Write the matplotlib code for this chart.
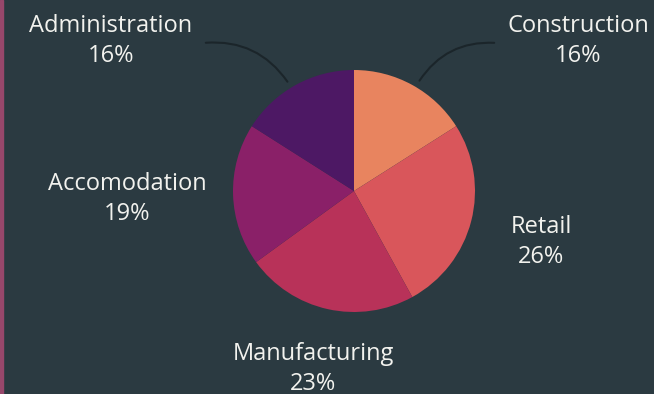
import numpy as np
import matplotlib.pyplot as plt
from matplotlib.patches import Rectangle, FancyArrowPatch

# data
sectors = ['Construction', 'Retail', 'Manufacturing', 'Accomodation', 'Administration']
shares = [16, 26, 23, 19, 16]
colors = ['#e8845f', '#d9565b', '#b83259', '#8a2068', '#4d1864']

# label centres (pixels, from top-left)
label_pos = [(578, 41), (541, 242), (313, 369), (127, 199), (111, 41)]

bg = '#2b3a41'
W, H = 654, 394
fig = plt.figure(figsize=(W / 100, H / 100), dpi=100, facecolor=bg)

# overlay axes in pixel coordinates
ov = fig.add_axes([0, 0, 1, 1])
ov.set_xlim(0, W)
ov.set_ylim(H, 0)
ov.axis('off')
ov.add_patch(Rectangle((0, 0), 3, H, color='#97476b'))

# pie
cx, cy, r = 354, 191, 121
ax = fig.add_axes([(cx - r) / W, (H - cy - r) / H, 2 * r / W, 2 * r / H])
ax.pie(shares, colors=colors, startangle=90, counterclock=False,
       wedgeprops=dict(linewidth=0))
ax.set_xlim(-1, 1)
ax.set_ylim(-1, 1)
ax.set_aspect('auto')

# labels (Manufacturing is clipped by the bottom edge, as in the original)
for name, val, (x, y) in zip(sectors, shares, label_pos):
    ov.text(x, y, f'{name}\n{val}%', ha='center', va='center', color='#f2f2ee',
            fontsize=17, family='Open Sans', linespacing=1.38)

# leader arcs
ov.add_patch(FancyArrowPatch((203, 43), (289, 84), arrowstyle='-',
                             connectionstyle='arc3,rad=-0.3', color='#1b252a', lw=1.5))
ov.add_patch(FancyArrowPatch((497, 43), (418, 83), arrowstyle='-',
                             connectionstyle='arc3,rad=0.3', color='#1b252a', lw=1.5))

fig.savefig('out.png', dpi=100, facecolor=bg)
